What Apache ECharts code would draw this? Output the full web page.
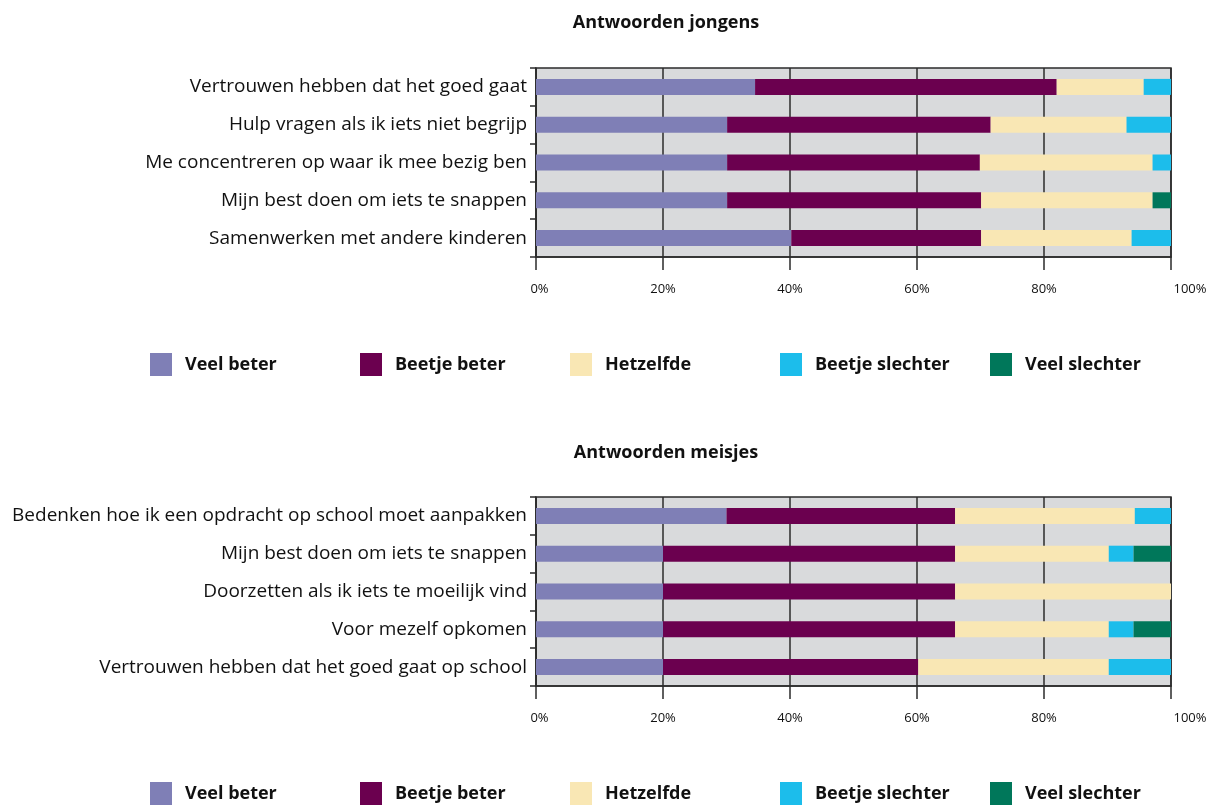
<!DOCTYPE html>
<html>
<head>
<meta charset="utf-8">
<script src="https://cdn.jsdelivr.net/npm/echarts@6/dist/echarts.min.js"></script>
<style>
  html, body { margin: 0; padding: 0; background: #fff; }
  #chart { width: 1221px; height: 805px; }
</style>
</head>
<body>
<div id="chart"></div>
<script>
// categorieën (van boven naar beneden)
const jongensCategories = [
  'Vertrouwen hebben dat het goed gaat',
  'Hulp vragen als ik iets niet begrijp',
  'Me concentreren op waar ik mee bezig ben',
  'Mijn best doen om iets te snappen',
  'Samenwerken met andere kinderen'
];
const meisjesCategories = [
  'Bedenken hoe ik een opdracht op school moet aanpakken',
  'Mijn best doen om iets te snappen',
  'Doorzetten als ik iets te moeilijk vind',
  'Voor mezelf opkomen',
  'Vertrouwen hebben dat het goed gaat op school'
];
const answerNames = ['Veel beter', 'Beetje beter', 'Hetzelfde', 'Beetje slechter', 'Veel slechter'];
const answerColors = ['#7F7FB6', '#6B004F', '#F9E7B4', '#1CBDEB', '#00775A'];

// percentages jongens
const jongensVeelBeter      = [34.5, 30.1, 30.1, 30.1, 40.2];
const jongensBeetjeBeter    = [47.5, 41.5, 39.8, 40.0, 29.9];
const jongensHetzelfde      = [13.7, 21.4, 27.2, 27.0, 23.7];
const jongensBeetjeSlechter = [4.3, 7.0, 2.9, 0, 6.2];
const jongensVeelSlechter   = [0, 0, 0, 2.9, 0];

// percentages meisjes
const meisjesVeelBeter      = [30.0, 20.0, 20.0, 20.0, 20.0];
const meisjesBeetjeBeter    = [36.0, 46.0, 46.0, 46.0, 40.2];
const meisjesHetzelfde      = [28.3, 24.2, 34.0, 24.2, 30.0];
const meisjesBeetjeSlechter = [5.7, 3.9, 0, 3.9, 9.8];
const meisjesVeelSlechter   = [0, 5.9, 0, 5.9, 0];

const jongensData = [jongensVeelBeter, jongensBeetjeBeter, jongensHetzelfde, jongensBeetjeSlechter, jongensVeelSlechter];
const meisjesData = [meisjesVeelBeter, meisjesBeetjeBeter, meisjesHetzelfde, meisjesBeetjeSlechter, meisjesVeelSlechter];

const FONT = '"Open Sans", "Noto Sans", sans-serif';
const DARK = '#2b2b2b';

const chart = echarts.init(document.getElementById('chart'), null, { renderer: 'canvas' });

function makeGrid(top) {
  return {
    left: 536, right: 50, top: top, height: 189,
    show: true, backgroundColor: '#D9DADC',
    borderColor: DARK, borderWidth: 1.5
  };
}

function makeXAxis(gridIndex) {
  return {
    type: 'value', gridIndex: gridIndex, min: 0, max: 100, interval: 20,
    axisLine: { show: true, lineStyle: { color: DARK, width: 1.5 } },
    axisTick: { show: true, length: 13, lineStyle: { color: DARK, width: 1.5 } },
    splitLine: { show: true, lineStyle: { color: DARK, width: 1.5 } },
    axisLabel: {
      margin: 26, fontSize: 13, color: '#111', fontFamily: FONT,
      formatter: (v) => v === 100 ? '{r|100%}' : (v === 0 ? '{z|0%}' : v + '%'),
      rich: {
        r: { fontSize: 13, color: '#111', fontFamily: FONT, padding: [0, 0, 0, 38] },
        z: { fontSize: 13, color: '#111', fontFamily: FONT, padding: [0, 0, 0, 7] }
      }
    }
  };
}

function makeYAxis(gridIndex, cats) {
  return {
    type: 'category', gridIndex: gridIndex, data: cats, inverse: true,
    axisLine: { show: true, lineStyle: { color: DARK, width: 1.5 } },
    axisTick: { show: true, length: 6, lineStyle: { color: DARK, width: 1.5 } },
    axisLabel: { fontSize: 19, color: '#111', fontFamily: FONT, margin: 9 }
  };
}

// één legend per item zodat de afstand gelijk blijft (210px)
function makeLegends(top) {
  return answerNames.map((name, i) => ({
    top: top, left: 150 + i * 210, padding: 0,
    icon: 'rect', itemWidth: 22, itemHeight: 23, itemGap: 0,
    textStyle: { fontSize: 18, fontWeight: 'bold', color: '#111', fontFamily: FONT, padding: [0, 0, 0, 8] },
    data: [name]
  }));
}

const series = [];
answerNames.forEach((name, i) => {
  series.push({
    name: name, type: 'bar', stack: 'jongens', xAxisIndex: 0, yAxisIndex: 0,
    barWidth: 16, itemStyle: { color: answerColors[i] }, data: jongensData[i]
  });
  series.push({
    name: name, type: 'bar', stack: 'meisjes', xAxisIndex: 1, yAxisIndex: 1,
    barWidth: 16, itemStyle: { color: answerColors[i] }, data: meisjesData[i]
  });
});

chart.setOption({
  animation: false,
  backgroundColor: '#fff',
  title: [
    { text: 'Antwoorden jongens', left: 661, top: 9, textAlign: 'center',
      textStyle: { fontSize: 18, fontWeight: 'bold', color: '#111', fontFamily: FONT } },
    { text: 'Antwoorden meisjes', left: 661, top: 439, textAlign: 'center',
      textStyle: { fontSize: 18, fontWeight: 'bold', color: '#111', fontFamily: FONT } }
  ],
  legend: makeLegends(353).concat(makeLegends(782)),
  grid: [makeGrid(68), makeGrid(497)],
  xAxis: [makeXAxis(0), makeXAxis(1)],
  yAxis: [makeYAxis(0, jongensCategories), makeYAxis(1, meisjesCategories)],
  series: series
});
</script>
</body>
</html>
